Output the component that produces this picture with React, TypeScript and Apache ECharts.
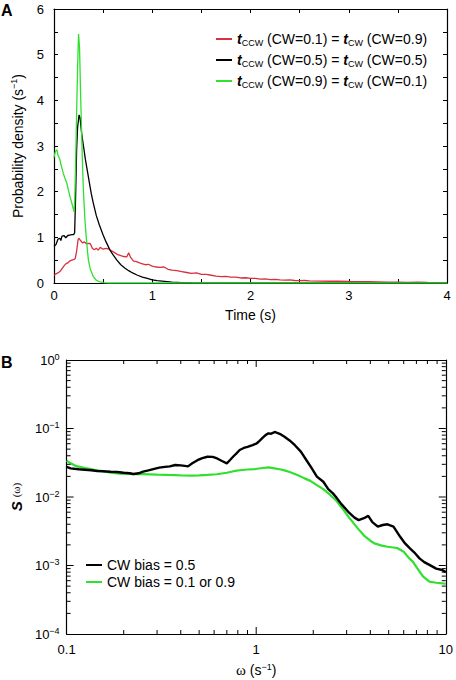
import React, { useEffect, useRef } from "react";
import * as echarts from "echarts";

// Panel A: probability density of interval durations, [time (s), density (1/s)]
const pdfCcw01: [number, number][] = [
  [0.0, 0.17], [0.02, 0.2], [0.04, 0.22], [0.06, 0.25], [0.08, 0.31], [0.1, 0.37], [0.12, 0.42],
  [0.14, 0.44], [0.16, 0.48], [0.18, 0.5], [0.2, 0.51], [0.215, 0.53], [0.23, 0.69], [0.245, 0.95],
  [0.255, 0.98], [0.27, 0.93], [0.29, 0.88], [0.31, 0.9], [0.33, 0.86], [0.35, 0.87], [0.37, 0.86],
  [0.39, 0.76], [0.41, 0.73], [0.43, 0.76], [0.45, 0.72], [0.47, 0.78], [0.5, 0.74], [0.53, 0.76],
  [0.56, 0.74], [0.59, 0.7], [0.62, 0.66], [0.65, 0.62], [0.68, 0.6], [0.71, 0.58], [0.74, 0.57],
  [0.76, 0.66], [0.78, 0.56], [0.81, 0.48], [0.84, 0.47], [0.87, 0.44], [0.9, 0.42], [0.93, 0.4],
  [0.96, 0.41], [1.0, 0.37], [1.04, 0.35], [1.08, 0.34], [1.12, 0.35], [1.16, 0.3], [1.2, 0.28],
  [1.25, 0.27], [1.3, 0.25], [1.35, 0.23], [1.4, 0.21], [1.45, 0.22], [1.5, 0.19], [1.55, 0.19],
  [1.6, 0.17], [1.65, 0.15], [1.7, 0.14], [1.75, 0.145], [1.8, 0.13], [1.85, 0.13], [1.9, 0.11],
  [1.95, 0.115], [2.0, 0.1], [2.05, 0.1], [2.1, 0.085], [2.15, 0.09], [2.2, 0.075], [2.25, 0.08],
  [2.3, 0.07], [2.35, 0.065], [2.4, 0.07], [2.45, 0.055], [2.5, 0.05], [2.55, 0.055], [2.6, 0.045],
  [2.7, 0.04], [2.8, 0.038], [2.9, 0.042], [3.0, 0.033], [3.1, 0.03], [3.2, 0.028], [3.3, 0.024],
  [3.4, 0.02], [3.5, 0.02], [3.6, 0.015], [3.7, 0.017], [3.8, 0.012], [3.9, 0.01], [4.0, 0.01],
];
const pdfCcw05: [number, number][] = [
  [0.0, 0.8], [0.02, 0.84], [0.04, 0.96], [0.06, 0.98], [0.07, 0.93], [0.08, 1.02], [0.1, 1.04],
  [0.12, 0.99], [0.14, 1.04], [0.16, 1.05], [0.18, 1.06], [0.2, 1.06], [0.21, 1.1], [0.22, 1.9],
  [0.23, 2.9], [0.24, 3.4], [0.255, 3.68], [0.265, 3.62], [0.28, 3.3], [0.3, 3.0], [0.32, 2.7],
  [0.34, 2.45], [0.36, 2.2], [0.38, 1.95], [0.4, 1.75], [0.43, 1.48], [0.46, 1.28], [0.5, 1.05],
  [0.53, 0.9], [0.57, 0.72], [0.6, 0.62], [0.64, 0.5], [0.68, 0.4], [0.72, 0.33], [0.76, 0.27],
  [0.8, 0.22], [0.85, 0.17], [0.9, 0.13], [0.95, 0.1], [1.0, 0.07], [1.05, 0.05], [1.1, 0.04],
  [1.15, 0.03], [1.2, 0.02], [1.3, 0.01], [1.4, 0.005], [1.6, 0.002], [2.0, 0.0], [4.0, 0.0],
];
const pdfCcw09: [number, number][] = [
  [0.0, 2.75], [0.01, 2.85], [0.02, 2.9], [0.03, 2.92], [0.04, 2.8], [0.05, 2.76], [0.06, 2.7],
  [0.07, 2.6], [0.08, 2.52], [0.095, 2.4], [0.11, 2.3], [0.13, 2.19], [0.145, 2.05], [0.163, 1.89],
  [0.18, 1.76], [0.197, 1.62], [0.205, 1.56], [0.21, 1.75], [0.22, 2.6], [0.23, 3.7], [0.24, 4.7],
  [0.25, 5.45], [0.26, 5.15], [0.27, 4.2], [0.28, 3.4], [0.29, 2.6], [0.3, 2.0], [0.315, 1.38],
  [0.33, 0.95], [0.35, 0.5], [0.37, 0.3], [0.4, 0.14], [0.43, 0.06], [0.46, 0.03], [0.5, 0.01],
  [0.55, 0.0], [4.0, 0.0],
];

// Panel B: power spectra, [omega (1/s), S(omega)]
const specBias05: [number, number][] = [
  [0.1, 0.0275], [0.105, 0.0262], [0.11, 0.0258], [0.116, 0.0254], [0.125, 0.025], [0.135, 0.0246],
  [0.145, 0.024], [0.155, 0.0238], [0.171, 0.0234], [0.185, 0.0232], [0.2, 0.0226], [0.215, 0.0222],
  [0.225, 0.0217], [0.24, 0.0222], [0.253, 0.0234], [0.27, 0.0245], [0.29, 0.0258], [0.308, 0.0268],
  [0.33, 0.0275], [0.35, 0.028], [0.374, 0.0293], [0.4, 0.029], [0.42, 0.0285], [0.437, 0.028],
  [0.46, 0.031], [0.49, 0.0345], [0.52, 0.037], [0.553, 0.0387], [0.59, 0.0385], [0.622, 0.0365],
  [0.66, 0.0335], [0.7, 0.031], [0.73, 0.035], [0.757, 0.039], [0.787, 0.0434], [0.818, 0.0485],
  [0.86, 0.052], [0.9, 0.054], [0.957, 0.0574], [1.0, 0.06], [1.03, 0.064], [1.08, 0.073],
  [1.12, 0.08], [1.16, 0.085], [1.2, 0.084], [1.26, 0.089], [1.29, 0.086], [1.35, 0.082],
  [1.41, 0.076], [1.5, 0.067], [1.6, 0.057], [1.72, 0.0459], [1.86, 0.033], [1.95, 0.027],
  [2.09, 0.0198], [2.26, 0.0167], [2.4, 0.013], [2.54, 0.0113], [2.63, 0.0101], [2.8, 0.008],
  [3.09, 0.0059], [3.3, 0.005], [3.47, 0.0046], [3.7, 0.0049], [3.9, 0.0053], [4.1, 0.0043],
  [4.38, 0.0037], [4.65, 0.0039], [4.93, 0.004], [5.3, 0.0037], [5.76, 0.0026], [6.1, 0.0021],
  [6.47, 0.00178], [6.9, 0.0015], [7.27, 0.00127], [7.7, 0.00112], [8.2, 0.00102], [8.9, 0.0009],
  [9.57, 0.00086], [10.0, 0.0008],
];
const specBias01: [number, number][] = [
  [0.1, 0.0339], [0.105, 0.031], [0.11, 0.029], [0.116, 0.0277], [0.125, 0.0265], [0.135, 0.0255],
  [0.141, 0.0248], [0.155, 0.0238], [0.171, 0.0226], [0.19, 0.022], [0.209, 0.0217], [0.23, 0.0216],
  [0.253, 0.0216], [0.3, 0.0212], [0.34, 0.021], [0.374, 0.0209], [0.41, 0.0206], [0.455, 0.0205],
  [0.5, 0.0207], [0.553, 0.021], [0.62, 0.0215], [0.7, 0.0226], [0.76, 0.0238], [0.818, 0.0246],
  [0.9, 0.0252], [0.99, 0.0256], [1.08, 0.0265], [1.16, 0.027], [1.25, 0.0262], [1.35, 0.0252],
  [1.41, 0.0245], [1.5, 0.0232], [1.65, 0.021], [1.8, 0.0187], [1.93, 0.0172], [2.1, 0.0148],
  [2.26, 0.013], [2.45, 0.0108], [2.63, 0.009], [2.85, 0.0068], [3.09, 0.005], [3.4, 0.0036],
  [3.72, 0.0027], [4.0, 0.0023], [4.2, 0.0021], [4.6, 0.00195], [4.93, 0.00188], [5.54, 0.0018],
  [6.0, 0.00159], [6.4, 0.00128], [6.7, 0.00114], [7.2, 0.00085], [7.6, 0.00069], [8.2, 0.00058],
  [8.9, 0.00056], [9.57, 0.00055], [10.0, 0.00054],
];

// Log-axis tick positions for panel B
const omegaTicks = [0.2, 0.3, 0.4, 0.5, 0.6, 0.7, 0.8, 0.9, 1, 2, 3, 4, 5, 6, 7, 8, 9];
const spectrumTicks = [
  0.0002, 0.0003, 0.0004, 0.0005, 0.0006, 0.0007, 0.0008, 0.0009, 0.001,
  0.002, 0.003, 0.004, 0.005, 0.006, 0.007, 0.008, 0.009, 0.01,
  0.02, 0.03, 0.04, 0.05, 0.06, 0.07, 0.08, 0.09, 0.1,
  0.2, 0.3, 0.4, 0.5, 0.6, 0.7, 0.8, 0.9,
];

const seriesNamesA = [
  "tCCW (CW=0.1) = tCW (CW=0.9)",
  "tCCW (CW=0.5) = tCW (CW=0.5)",
  "tCCW (CW=0.9) = tCW (CW=0.1)",
];
const legendRichA: Record<string, string> = {
  [seriesNamesA[0]]: "{t|t}{sub|CCW} (CW=0.1) = {t|t}{sub|CW} (CW=0.9)",
  [seriesNamesA[1]]: "{t|t}{sub|CCW} (CW=0.5) = {t|t}{sub|CW} (CW=0.5)",
  [seriesNamesA[2]]: "{t|t}{sub|CCW} (CW=0.9) = {t|t}{sub|CW} (CW=0.1)",
};
const seriesNamesB = ["CW bias = 0.5", "CW bias = 0.1 or 0.9"];

const FONT = "'Liberation Sans', Arial, Helvetica, sans-serif";
const SERIF = "'Liberation Serif', 'DejaVu Serif', serif";
const RED = "#d8303c";
const GREEN = "#2fe02f";

function isDecade(v: number) {
  const e = Math.log10(v);
  return Math.abs(e - Math.round(e)) < 1e-6;
}

function xTickItem(params: any, api: any) {
  const v = api.value(0);
  const cs = params.coordSys;
  const px = api.coord([v, 0.01])[0];
  const len = isDecade(v) ? 7 : 4;
  const bottom = cs.y + cs.height;
  return {
    type: "group",
    children: [
      { type: "line", shape: { x1: px, y1: bottom, x2: px, y2: bottom - len }, style: { stroke: "#000", lineWidth: 1 } },
      { type: "line", shape: { x1: px, y1: cs.y, x2: px, y2: cs.y + len }, style: { stroke: "#000", lineWidth: 1 } },
    ],
  };
}
function yTickItem(params: any, api: any) {
  const v = api.value(1);
  const cs = params.coordSys;
  const py = api.coord([1, v])[1];
  const len = isDecade(v) ? 7 : 4;
  const right = cs.x + cs.width;
  return {
    type: "group",
    children: [
      { type: "line", shape: { x1: cs.x, y1: py, x2: cs.x + len, y2: py }, style: { stroke: "#000", lineWidth: 1 } },
      { type: "line", shape: { x1: right, y1: py, x2: right - len, y2: py }, style: { stroke: "#000", lineWidth: 1 } },
    ],
  };
}

const supRich = {
  b: { fontSize: 13, lineHeight: 16, fontFamily: FONT, color: "#000" },
  p: { fontSize: 9, lineHeight: 9, verticalAlign: "top", fontFamily: FONT, color: "#000" },
};

function linAxis(grid: number, pos: string, min: number, max: number, withLabels: boolean, extra: any = {}) {
  return {
    type: "value",
    gridIndex: grid,
    position: pos,
    min,
    max,
    interval: 0.5,
    axisLine: { show: true, onZero: false, lineStyle: { color: "#000", width: 1.2 } },
    axisTick: { show: true, inside: true, length: 4, lineStyle: { color: "#000", width: 1 } },
    axisLabel: {
      show: withLabels,
      color: "#000",
      fontFamily: FONT,
      fontSize: 13,
      formatter: (v: number) => (Number.isInteger(v) ? String(v) : ""),
      ...(extra.axisLabel || {}),
    },
    splitLine: { show: false },
    ...extra.rest,
  };
}

function logAxis(grid: number, pos: string, min: number, max: number, withLabels: boolean, extra: any = {}) {
  return {
    type: "log",
    logBase: 10,
    gridIndex: grid,
    position: pos,
    min,
    max,
    axisLine: { show: true, onZero: false, lineStyle: { color: "#000", width: 1.2 } },
    axisTick: { show: false },
    axisLabel: { show: withLabels, color: "#000", fontFamily: FONT, fontSize: 13, ...(extra.axisLabel || {}) },
    splitLine: { show: false },
    minorTick: { show: false },
    ...extra.rest,
  };
}

export default function App() {
  const ref = useRef<HTMLDivElement>(null);
  useEffect(() => {
    document.body.style.margin = "0";
    if (!ref.current) return;
    const chart = echarts.init(ref.current, undefined, { renderer: "svg" });
    const option: any = {
      animation: false,
      backgroundColor: "#fff",
      textStyle: { fontFamily: FONT },
      grid: [
        { left: 54, top: 9, width: 393, height: 274 },
        { left: 54, top: 360, width: 393, height: 274 },
      ],
      graphic: [
        { type: "text", left: 1, top: 2, style: { text: "A", font: `bold 16px ${FONT}`, fill: "#000" } },
        { type: "text", left: 1, top: 354, style: { text: "B", font: `bold 16px ${FONT}`, fill: "#000" } },
      ],
      legend: [
        {
          data: seriesNamesA,
          orient: "vertical",
          left: 216,
          top: 31,
          padding: 0,
          itemGap: 5,
          itemWidth: 16,
          itemHeight: 2,
          icon: "rect",
          selectedMode: false,
          formatter: (name: string) => legendRichA[name],
          textStyle: {
            fontFamily: FONT,
            fontSize: 14,
            lineHeight: 16,
            color: "#000",
            rich: {
              t: { fontFamily: FONT, fontSize: 14, fontStyle: "italic", fontWeight: "bold", lineHeight: 16, color: "#000" },
              sub: { fontFamily: FONT, fontSize: 9, lineHeight: 10, verticalAlign: "bottom", color: "#000" },
            },
          },
        },
        {
          data: seriesNamesB,
          orient: "vertical",
          left: 86,
          top: 557,
          padding: 0,
          itemGap: 1,
          itemWidth: 16,
          itemHeight: 2,
          icon: "rect",
          selectedMode: false,
          textStyle: { fontFamily: FONT, fontSize: 14, lineHeight: 16, color: "#000" },
        },
      ],
      xAxis: [
        linAxis(0, "bottom", 0, 4, true, {
          axisLabel: { margin: 6 },
          rest: {
            name: "Time (s)",
            nameLocation: "middle",
            nameGap: 25,
            nameTextStyle: { fontFamily: FONT, fontSize: 14, color: "#000" },
          },
        }),
        linAxis(0, "top", 0, 4, false),
        logAxis(1, "bottom", 0.1, 10, true, {
          axisLabel: { margin: 9, formatter: (v: number) => String(v) },
          rest: {
            name: "{w|ω} (s{p|−1})",
            nameLocation: "middle",
            nameGap: 28,
            nameTextStyle: {
              fontFamily: FONT,
              fontSize: 14,
              lineHeight: 16,
              color: "#000",
              rich: {
                w: { fontFamily: SERIF, fontSize: 15, lineHeight: 16, color: "#000" },
                p: { fontFamily: FONT, fontSize: 9, lineHeight: 9, verticalAlign: "top", color: "#000" },
              },
            },
          },
        }),
        logAxis(1, "top", 0.1, 10, false),
      ],
      yAxis: [
        linAxis(0, "left", 0, 6, true, {
          axisLabel: { margin: 10 },
          rest: {
            name: "Probability density (s{p|−1})",
            nameLocation: "middle",
            nameGap: 28,
            nameTextStyle: {
              fontFamily: FONT,
              fontSize: 14,
              lineHeight: 16,
              color: "#000",
              rich: {
                p: { fontFamily: FONT, fontSize: 9, lineHeight: 9, verticalAlign: "top", color: "#000" },
              },
            },
          },
        }),
        linAxis(0, "right", 0, 6, false),
        logAxis(1, "left", 0.0001, 1, true, {
          axisLabel: {
            margin: 7,
            formatter: (v: number) => {
              const e = Math.round(Math.log10(v));
              return `{b|10}{p|${e < 0 ? "−" + Math.abs(e) : e}}`;
            },
            rich: supRich,
          },
          rest: {
            splitNumber: 4,
            name: "{s|S} {o|(ω)}",
            nameLocation: "middle",
            nameGap: 33,
            nameTextStyle: {
              fontFamily: FONT,
              fontSize: 14,
              lineHeight: 16,
              color: "#000",
              rich: {
                s: { fontFamily: FONT, fontSize: 15, fontWeight: "bold", fontStyle: "italic", lineHeight: 16, color: "#000" },
                o: { fontFamily: SERIF, fontSize: 11, lineHeight: 16, color: "#000" },
              },
            },
          },
        }),
        logAxis(1, "right", 0.0001, 1, false),
      ],
      series: [
        {
          name: seriesNamesA[0], type: "line", xAxisIndex: 0, yAxisIndex: 0, data: pdfCcw01,
          symbol: "none", color: RED, lineStyle: { color: RED, width: 1.3 },
        },
        {
          name: seriesNamesA[1], type: "line", xAxisIndex: 0, yAxisIndex: 0, data: pdfCcw05,
          symbol: "none", color: "#000", lineStyle: { color: "#000", width: 1.3 },
        },
        {
          name: seriesNamesA[2], type: "line", xAxisIndex: 0, yAxisIndex: 0, data: pdfCcw09,
          symbol: "none", color: GREEN, lineStyle: { color: GREEN, width: 1.3 },
        },
        {
          name: seriesNamesB[1], type: "line", xAxisIndex: 2, yAxisIndex: 2, data: specBias01,
          symbol: "none", color: GREEN, lineStyle: { color: GREEN, width: 2.2 },
        },
        {
          name: seriesNamesB[0], type: "line", xAxisIndex: 2, yAxisIndex: 2, data: specBias05,
          symbol: "none", color: "#000", lineStyle: { color: "#000", width: 2.4 },
        },
        {
          type: "custom", xAxisIndex: 2, yAxisIndex: 2, silent: true, clip: false, z: 5,
          data: omegaTicks.map((v) => [v, 0.01]),
          renderItem: xTickItem,
        },
        {
          type: "custom", xAxisIndex: 2, yAxisIndex: 2, silent: true, clip: false, z: 5,
          data: spectrumTicks.map((v) => [1, v]),
          renderItem: yTickItem,
        },
      ],
    };
    chart.setOption(option);
    return () => chart.dispose();
  }, []);
  return <div ref={ref} style={{ width: 456, height: 680 }} />;
}
